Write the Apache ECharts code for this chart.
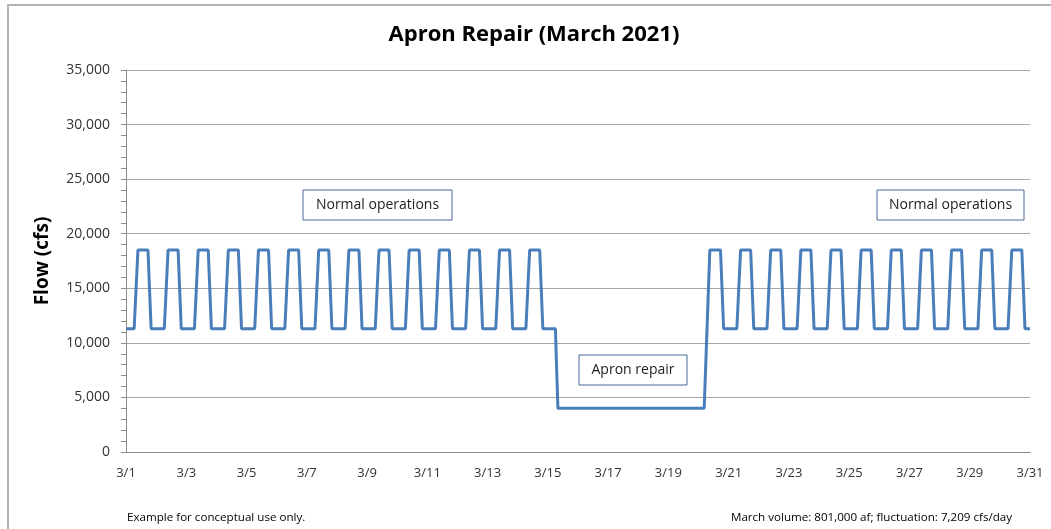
<!DOCTYPE html>
<html>
<head>
<meta charset="utf-8">
<script src="https://cdn.jsdelivr.net/npm/echarts@6/dist/echarts.min.js"></script>
<style>
html,body{margin:0;padding:0;background:#fff;}
#chart{width:1051px;height:529px;}
</style>
</head>
<body>
<div id="chart"></div>
<script>
// ---- Data ----
const dayLabels = ['3/1','3/2','3/3','3/4','3/5','3/6','3/7','3/8','3/9','3/10',
  '3/11','3/12','3/13','3/14','3/15','3/16','3/17','3/18','3/19','3/20',
  '3/21','3/22','3/23','3/24','3/25','3/26','3/27','3/28','3/29','3/30','3/31'];
const yTicks = [0, 5000, 10000, 15000, 20000, 25000, 30000, 35000];
const HIGH = 18500;    // daily peak flow (cfs)
const LOW = 11291;     // daily base flow (cfs), peak minus 7,209 fluctuation
const REPAIR = 4000;   // flow during apron repair (cfs)
// Hourly breakpoints [hour, flow] for each kind of day
const normalDay   = [[0, LOW], [6.5, LOW], [9.5, HIGH], [17.5, HIGH], [20, LOW]];
const repairStart = [[0, LOW], [6, LOW], [8, REPAIR]];
const repairDay   = [[0, REPAIR]];
const repairEnd   = [[0, REPAIR], [4.5, REPAIR], [9, HIGH], [17.5, HIGH], [20, LOW]];
// Schedule for 3/1 .. 3/30
const schedule = ['N','N','N','N','N','N','N','N','N','N','N','N','N','N',
  'S','R','R','R','R','E',
  'N','N','N','N','N','N','N','N','N','N'];
const endValue = LOW; // 3/31 00:00
const annotations = [
  {text: 'Normal operations', x: 303, y: 190, w: 149, h: 30},
  {text: 'Normal operations', x: 877, y: 190, w: 147, h: 30},
  {text: 'Apron repair', x: 579, y: 355, w: 108, h: 30}
];
const footLeft = 'Example for conceptual use only.';
const footRight = 'March volume: 801,000 af; fluctuation: 7,209 cfs/day';

// ---- Build series ----
const profiles = {N: normalDay, S: repairStart, R: repairDay, E: repairEnd};
const flow = [];
schedule.forEach((k, d) => {
  profiles[k].forEach(([h, v]) => flow.push([d + h / 24, v]));
});
flow.push([dayLabels.length - 1, endValue]);

const FONT = '"Open Sans", "Liberation Sans", sans-serif';
const chart = echarts.init(document.getElementById('chart'), null, {renderer: 'canvas'});

const graphics = [
  {type: 'rect', shape: {x: 8, y: 5, width: 1080, height: 560}, style: {fill: 'none', stroke: '#b4b4b4', lineWidth: 2}, silent: true},
  {type: 'text', x: 534, y: 35, style: {text: 'Apron Repair (March 2021)', font: 'bold 22px ' + FONT, fill: '#000', textAlign: 'center', textVerticalAlign: 'middle'}},
  {type: 'text', x: 127, y: 518, style: {text: footLeft, font: '11.6px ' + FONT, fill: '#000', textVerticalAlign: 'middle'}},
  {type: 'text', x: 1012, y: 518, style: {text: footRight, font: '11.6px ' + FONT, fill: '#000', textAlign: 'right', textVerticalAlign: 'middle'}}
];
annotations.forEach(a => {
  graphics.push({type: 'rect', shape: {x: a.x, y: a.y, width: a.w, height: a.h}, style: {fill: '#fff', stroke: '#4a6a9a', lineWidth: 1}, z: 10});
  graphics.push({type: 'text', x: a.x + a.w / 2, y: a.y + a.h / 2, z: 11,
    style: {text: a.text, font: '14px ' + FONT, fill: '#222', textAlign: 'center', textVerticalAlign: 'middle'}});
});

chart.setOption({
  animation: false,
  backgroundColor: '#fff',
  grid: {left: 126, right: 21, top: 70, bottom: 77, containLabel: false},
  xAxis: {
    type: 'value', min: 0, max: dayLabels.length - 1, interval: 2,
    axisLine: {show: true, lineStyle: {color: '#8c8c8c', width: 1}},
    axisTick: {show: false},
    splitLine: {show: false},
    axisLabel: {formatter: v => dayLabels[v] || '', color: '#333', fontSize: 13, fontFamily: FONT, margin: 15}
  },
  yAxis: {
    type: 'value', min: yTicks[0], max: yTicks[yTicks.length - 1], interval: 5000,
    name: 'Flow (cfs)', nameLocation: 'middle', nameGap: 74,
    nameTextStyle: {fontSize: 19, fontWeight: 'bold', color: '#000', fontFamily: FONT},
    axisLine: {show: true, lineStyle: {color: '#8c8c8c', width: 1}},
    axisTick: {show: true, length: 5, lineStyle: {color: '#8c8c8c'}},
    minorTick: {show: true, splitNumber: 5, length: 5, lineStyle: {color: '#8c8c8c'}},
    splitLine: {show: true, lineStyle: {color: '#a6a6a6', width: 1}},
    axisLabel: {formatter: v => v.toLocaleString('en-US'), color: '#333', fontSize: 14, fontFamily: FONT, margin: 16}
  },
  series: [{
    type: 'line', data: flow, showSymbol: false, smooth: false,
    lineStyle: {color: '#4a7ebb', width: 3}, z: 5
  }],
  graphic: graphics
});
</script>
</body>
</html>
